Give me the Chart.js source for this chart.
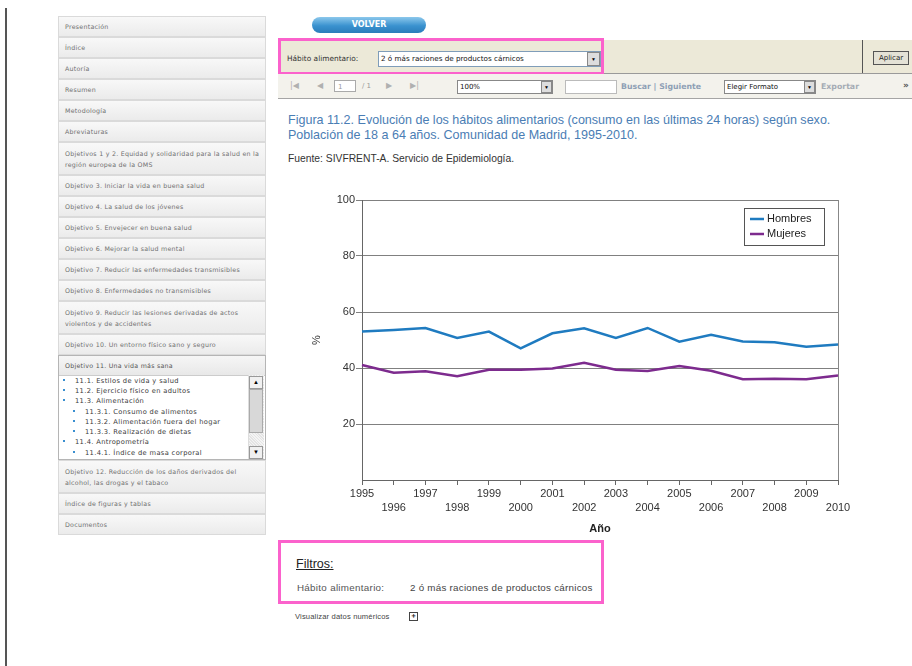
<!DOCTYPE html>
<html><head><meta charset="utf-8">
<script src="https://cdn.jsdelivr.net/npm/chart.js@4.4.0/dist/chart.umd.min.js"></script>
<style>
body{margin:0;width:912px;height:666px;background:#fff;position:relative;overflow:hidden;font-family:"Liberation Sans",Arial,sans-serif;}
.abs{position:absolute;}
.vline{left:5px;top:8px;width:2px;height:660px;background:#555;}
.it{position:absolute;left:58px;width:206px;height:19px;box-sizing:content-box;border:1px solid #dadada;background:linear-gradient(#f8f8f8,#ebebeb);font-family:"DejaVu Sans",sans-serif;font-size:6.3px;letter-spacing:0.25px;color:#707070;line-height:19px;padding:0;}
.it span{position:absolute;left:6px;}
.it.d{height:31px;line-height:11px;}
.it.d span{top:5px;}
.o11{position:absolute;left:58px;top:355px;width:206px;height:103px;border:1px solid #b5b5b5;background:#fff;}
.o11 .h{height:19px;background:linear-gradient(#f6f6f6,#e8e8e8);font-family:"DejaVu Sans",sans-serif;font-size:6.3px;letter-spacing:0.25px;color:#555;line-height:19px;padding-left:6px;border-bottom:1px solid #ccc;}
.li{position:absolute;font-family:"DejaVu Sans",sans-serif;font-size:6.7px;color:#3a3a3a;letter-spacing:0.35px;}
.bu{position:absolute;width:2px;height:2px;background:#3a8fd0;}
.pink{position:absolute;border:3px solid #fb62cc;}
</style></head><body>
<div class="abs vline"></div>

<!-- sidebar -->
<div class="it" style="top:16px"><span>Presentación</span></div>
<div class="it" style="top:37px"><span>Índice</span></div>
<div class="it" style="top:58px"><span>Autoría</span></div>
<div class="it" style="top:79px"><span>Resumen</span></div>
<div class="it" style="top:100px"><span>Metodología</span></div>
<div class="it" style="top:121px"><span>Abreviaturas</span></div>
<div class="it d" style="top:142px"><span>Objetivos 1 y 2. Equidad y solidaridad para la salud en la<br>región europea de la OMS</span></div>
<div class="it" style="top:175px"><span>Objetivo 3. Iniciar la vida en buena salud</span></div>
<div class="it" style="top:196px"><span>Objetivo 4. La salud de los jóvenes</span></div>
<div class="it" style="top:217px"><span>Objetivo 5. Envejecer en buena salud</span></div>
<div class="it" style="top:238px"><span>Objetivo 6. Mejorar la salud mental</span></div>
<div class="it" style="top:259px"><span>Objetivo 7. Reducir las enfermedades transmisibles</span></div>
<div class="it" style="top:280px"><span>Objetivo 8. Enfermedades no transmisibles</span></div>
<div class="it d" style="top:301px"><span>Objetivo 9. Reducir las lesiones derivadas de actos<br>violentos y de accidentes</span></div>
<div class="it" style="top:334px"><span>Objetivo 10. Un entorno físico sano y seguro</span></div>
<div class="o11"><div class="h">Objetivo 11. Una vida más sana</div></div>
<div class="bu" style="left:63px;top:379px"></div><div class="li" style="left:75px;top:377px">11.1. Estilos de vida y salud</div>
<div class="bu" style="left:63px;top:389px"></div><div class="li" style="left:75px;top:387px">11.2. Ejercicio físico en adultos</div>
<div class="bu" style="left:63px;top:399px"></div><div class="li" style="left:75px;top:397px">11.3. Alimentación</div>
<div class="bu" style="left:73px;top:410px"></div><div class="li" style="left:85px;top:408px">11.3.1. Consumo de alimentos</div>
<div class="bu" style="left:73px;top:420px"></div><div class="li" style="left:85px;top:418px">11.3.2. Alimentación fuera del hogar</div>
<div class="bu" style="left:73px;top:430px"></div><div class="li" style="left:85px;top:428px">11.3.3. Realización de dietas</div>
<div class="bu" style="left:63px;top:440px"></div><div class="li" style="left:75px;top:438px">11.4. Antropometría</div>
<div class="bu" style="left:73px;top:451px"></div><div class="li" style="left:85px;top:449px">11.4.1. Índice de masa corporal</div>
<!-- scrollbar -->
<div class="abs" style="left:248px;top:375px;width:15px;height:84px;background:repeating-linear-gradient(45deg,#e4e4e4 0 1px,#f4f4f4 1px 2px);border-left:1px solid #ddd;"></div>
<div class="abs" style="left:249px;top:376px;width:12px;height:11px;background:#f0f0f0;border:1px solid #999;font-size:6px;text-align:center;line-height:11px;color:#000;">▲</div>
<div class="abs" style="left:249px;top:389px;width:12px;height:42px;background:#d8d8d8;border:1px solid #aaa;"></div>
<div class="abs" style="left:249px;top:446px;width:12px;height:11px;background:#f0f0f0;border:1px solid #999;font-size:6px;text-align:center;line-height:11px;color:#000;">▼</div>
<div class="it d" style="top:460px"><span>Objetivo 12. Reducción de los daños derivados del<br>alcohol, las drogas y el tabaco</span></div>
<div class="it" style="top:493px"><span>Índice de figuras y tablas</span></div>
<div class="it" style="top:514px"><span>Documentos</span></div>

<!-- top -->
<div class="abs" style="left:312px;top:17px;width:114px;height:16px;border-radius:8px;background:linear-gradient(#8cc8ec,#3a92cf 55%,#2a7cba);color:#fff;font:bold 8px 'DejaVu Sans',sans-serif;text-align:center;line-height:16px;">VOLVER</div>
<div class="abs" style="left:278px;top:40px;width:634px;height:33px;background:#ece9d8;border-bottom:1px solid #9a9a9a;"></div>
<div class="abs" style="left:862px;top:40px;width:1px;height:33px;background:#555;"></div>
<div class="abs" style="left:873px;top:51px;width:34px;height:12px;background:#e4e2d6;border:1px solid #555;font:7px 'DejaVu Sans',sans-serif;line-height:12px;text-align:center;color:#222;">Aplicar</div>
<div class="abs" style="left:287px;top:54px;font:7.4px 'DejaVu Sans',sans-serif;color:#333;">Hábito alimentario:</div>
<div class="abs" style="left:378px;top:51px;width:221px;height:14px;background:#fff;border:1px solid #7f9db9;"></div>
<div class="abs" style="left:381px;top:54px;font:7.2px 'DejaVu Sans',sans-serif;color:#111;">2 ó más raciones de productos cárnicos</div>
<div class="abs" style="left:587px;top:52px;width:11px;height:12px;background:#ddd;border:1px solid #888;font-size:5px;text-align:center;line-height:12px;">▼</div>
<div class="pink" style="left:278px;top:38px;width:320px;height:31px;"></div>

<!-- toolbar -->
<div class="abs" style="left:278px;top:74px;width:634px;height:24px;background:#f3f2ec;border-bottom:1px solid #a5a5a5;"></div>
<div class="abs" style="left:290px;top:81px;font:8px 'DejaVu Sans',sans-serif;color:#b0b0b0;">|◀</div>
<div class="abs" style="left:317px;top:81px;font:8px 'DejaVu Sans',sans-serif;color:#b0b0b0;">◀</div>
<div class="abs" style="left:334px;top:80px;width:22px;height:12px;background:#fff;border:1px solid #aaa;font:7px 'DejaVu Sans',sans-serif;color:#999;line-height:12px;padding-left:3px;box-sizing:border-box;">1</div>
<div class="abs" style="left:362px;top:82px;font:7px 'DejaVu Sans',sans-serif;color:#999;">/ 1</div>
<div class="abs" style="left:386px;top:81px;font:8px 'DejaVu Sans',sans-serif;color:#b0b0b0;">▶</div>
<div class="abs" style="left:410px;top:81px;font:8px 'DejaVu Sans',sans-serif;color:#b0b0b0;">▶|</div>
<div class="abs" style="left:457px;top:80px;width:96px;height:14px;background:#fff;border:1px solid #888;box-sizing:border-box;"></div>
<div class="abs" style="left:460px;top:83px;font:7px 'DejaVu Sans',sans-serif;color:#111;">100%</div>
<div class="abs" style="left:541px;top:81px;width:11px;height:12px;background:#ddd;border:1px solid #888;box-sizing:border-box;font-size:5px;text-align:center;line-height:11px;">▼</div>
<div class="abs" style="left:565px;top:80px;width:52px;height:14px;background:#fff;border:1px solid #bbb;box-sizing:border-box;"></div>
<div class="abs" style="left:621px;top:82px;font:bold 7.8px 'DejaVu Sans',sans-serif;color:#8e9fb5;">Buscar | Siguiente</div>
<div class="abs" style="left:724px;top:80px;width:92px;height:14px;background:#fff;border:1px solid #888;box-sizing:border-box;"></div>
<div class="abs" style="left:727px;top:83px;font:7px 'DejaVu Sans',sans-serif;color:#111;">Elegir Formato</div>
<div class="abs" style="left:804px;top:81px;width:11px;height:12px;background:#ddd;border:1px solid #888;box-sizing:border-box;font-size:5px;text-align:center;line-height:11px;">▼</div>
<div class="abs" style="left:821px;top:82px;font:bold 7.8px 'DejaVu Sans',sans-serif;color:#a5acb5;">Exportar</div>
<div class="abs" style="left:903px;top:80px;font:bold 9px 'DejaVu Sans',sans-serif;color:#555;">»</div>

<!-- titles -->
<div class="abs" style="left:288px;top:113px;font:12.55px 'Liberation Sans',Arial,sans-serif;color:#4a7db4;line-height:15px;">Figura 11.2. Evolución de los hábitos alimentarios (consumo en las últimas 24 horas) según sexo.<br>Población de 18 a 64 años. Comunidad de Madrid, 1995-2010.</div>
<div class="abs" style="left:288px;top:153px;font:10.3px 'Liberation Sans',Arial,sans-serif;color:#333;">Fuente: SIVFRENT-A. Servicio de Epidemiología.</div>

<div class="abs" style="left:290px;top:185px;width:570px;height:355px;"><canvas id="c" width="570" height="355"></canvas></div>

<!-- filtros -->
<div class="pink" style="left:278px;top:540px;width:320px;height:58px;"></div>
<div class="abs" style="left:296px;top:557px;font:12.5px 'Liberation Sans',Arial,sans-serif;color:#222;text-decoration:underline;">Filtros:</div>
<div class="abs" style="left:297px;top:582px;font:9.8px 'Liberation Sans',Arial,sans-serif;color:#555;letter-spacing:0.3px;">Hábito alimentario:</div>
<div class="abs" style="left:410px;top:582px;font:9.8px 'Liberation Sans',Arial,sans-serif;color:#444;letter-spacing:0.25px;">2 ó más raciones de productos cárnicos</div>
<div class="abs" style="left:295px;top:612px;font:7.6px 'Liberation Sans',Arial,sans-serif;color:#444;letter-spacing:0.15px;">Visualizar datos numéricos</div>
<div class="abs" style="left:409px;top:612px;width:7px;height:7px;border:1px solid #444;font:bold 7px monospace;line-height:7px;text-align:center;color:#222;">+</div>

<script>
const years = ['1995','1996','1997','1998','1999','2000','2001','2002','2003','2004','2005','2006','2007','2008','2009','2010'];
const hombres = [53.0, 53.6, 54.3, 50.7, 53.0, 47.0, 52.4, 54.2, 50.7, 54.3, 49.4, 51.9, 49.5, 49.2, 47.6, 48.4];
const mujeres = [41.1, 38.3, 38.8, 37.1, 39.4, 39.4, 39.8, 41.9, 39.4, 38.9, 40.7, 39.0, 36.0, 36.2, 36.0, 37.3];
const yTicks = [20, 40, 60, 80, 100];
const seriesNames = ['Hombres', 'Mujeres'];
const seriesColors = ['#1f7bc0', '#7d2b8e'];

const boxPlugin = {
  id: 'boxPlugin',
  afterDraw(chart) {
    const ctx = chart.ctx, a = chart.chartArea;
    ctx.save();
    ctx.strokeStyle = '#888'; ctx.lineWidth = 1;
    ctx.beginPath();
    ctx.moveTo(Math.round(a.right) + 0.5, a.top);
    ctx.lineTo(Math.round(a.right) + 0.5, a.bottom);
    ctx.stroke();
    // legend inside plot
    const w = 80, h = 37;
    const x = a.right - 14 - w, y = a.top + 8;
    ctx.fillStyle = '#fff';
    ctx.fillRect(x, y, w, h);
    ctx.strokeStyle = '#555';
    ctx.strokeRect(Math.round(x) + 0.5, Math.round(y) + 0.5, w, h);
    ctx.font = '11px "Liberation Sans", Arial, sans-serif';
    ctx.textBaseline = 'middle';
    chart.data.datasets.forEach((ds, i) => {
      const yy = y + 11 + i * 15;
      ctx.strokeStyle = ds.borderColor; ctx.lineWidth = 2.5;
      ctx.beginPath(); ctx.moveTo(x + 6, yy); ctx.lineTo(x + 20, yy); ctx.stroke();
      ctx.fillStyle = '#222';
      ctx.fillText(ds.label, x + 23, yy);
    });
    ctx.restore();
  }
};

new Chart(document.getElementById('c'), {
  type: 'line',
  data: {
    labels: years,
    datasets: [
      { label: seriesNames[0], data: hombres, borderColor: seriesColors[0], backgroundColor: seriesColors[0], borderWidth: 2.5, pointRadius: 0, tension: 0 },
      { label: seriesNames[1], data: mujeres, borderColor: seriesColors[1], backgroundColor: seriesColors[1], borderWidth: 2.5, pointRadius: 0, tension: 0 }
    ]
  },
  options: {
    responsive: false,
    animation: false,
    layout: { padding: { top: 15, right: 22, left: 0, bottom: 4 } },
    plugins: { legend: { display: false }, tooltip: { enabled: false } },
    scales: {
      x: {
        offset: false,
        grid: { drawOnChartArea: false, drawTicks: true, tickLength: 5, color: '#666' },
        border: { color: '#666', width: 1 },
        ticks: {
          autoSkip: false, maxRotation: 0, minRotation: 0, padding: 2,
          color: '#333', font: { family: '"Liberation Sans", Arial, sans-serif', size: 11, lineHeight: 1.3 },
          callback: function (v, i) { const l = this.getLabelForValue(v); return i % 2 === 0 ? [l, ''] : ['', l]; }
        },
        title: { display: true, text: 'Año', color: '#222', font: { family: '"Liberation Sans", Arial, sans-serif', size: 11, weight: 'bold' }, padding: { top: 2, bottom: 0 } },
        afterFit(s) { s.height = 56; }
      },
      y: {
        min: 0, max: 100,
        afterBuildTicks(s) { s.ticks = yTicks.map(v => ({ value: v })); },
        grid: { color: '#808080', lineWidth: 1, tickLength: 6 },
        border: { color: '#666', width: 1 },
        ticks: { padding: 1, color: '#333', font: { family: '"Liberation Sans", Arial, sans-serif', size: 11 } },
        title: { display: true, text: '%', color: '#333', font: { family: '"Liberation Sans", Arial, sans-serif', size: 11 }, padding: { top: 20, bottom: 0 } },
        afterFit(s) { s.width = 72; }
      }
    }
  },
  plugins: [boxPlugin]
});
</script>
</body></html>
